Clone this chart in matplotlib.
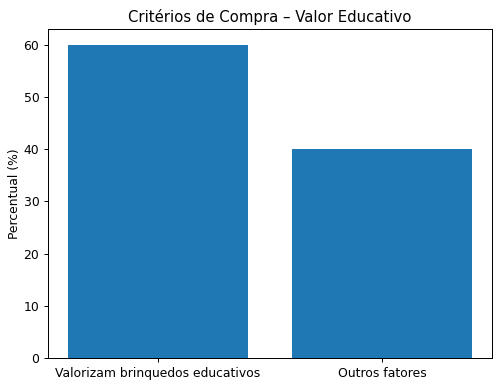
import matplotlib
matplotlib.use("Agg")
import matplotlib.pyplot as plt

categories = ["Valorizam brinquedos educativos", "Outros fatores"]
values = [60, 40]

dpi = 89
fig = plt.figure(figsize=(500 / dpi, 388 / dpi), dpi=dpi)
ax = fig.add_axes([48 / 500, 1 - 358 / 388, 444 / 500, (358 - 29.3) / 388])
ax.bar(categories, values, color="#1f77b4")
ax.set_title("Critérios de Compra – Valor Educativo")
ax.set_ylabel("Percentual (%)", labelpad=2)
fig.savefig("out.png", dpi=dpi)
